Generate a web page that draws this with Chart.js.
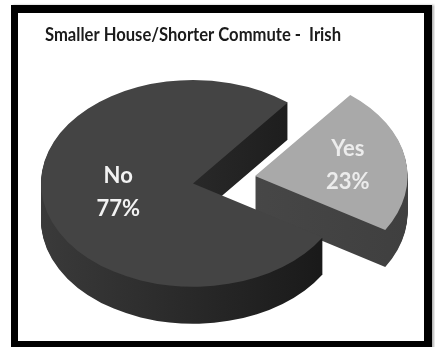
<!DOCTYPE html>
<html>
<head>
<meta charset="utf-8">
<script src="https://cdn.jsdelivr.net/npm/chart.js@4.4.0/dist/chart.umd.min.js"></script>
<style>
  html, body { margin: 0; padding: 0; background: #fff; overflow: hidden; }
  #wrap { position: relative; width: 435px; height: 347px; }
  #pieChart { display: block; }
  #frame {
    position: absolute; left: 11px; top: 5px; width: 421px; height: 345px;
    box-sizing: border-box; border-style: solid; border-color: #000;
    border-width: 8px 8px 9px 7px; pointer-events: none;
    box-shadow: 2px 0 2px rgba(0, 0, 0, 0.3);
  }
</style>
</head>
<body>
<div id="wrap">
  <canvas id="pieChart" width="435" height="347"></canvas>
  <div id="frame"></div>
</div>
<script>
// Survey answers
const answers = ['Yes', 'No'];
const shares = [23, 77];

// Look of the disc
const topColors = ['#a9a9a9', '#444444'];
const sideColors = [['#4e4e4e', '#3c3c3c'], ['#3a3a3a', '#171717']];
const labelColors = ['#ececec', '#f2f2f2'];
const explode = [63, 0];        // px the slice is pulled out
const labelRadius = [0.62, 0.5];
const tilt = 0.68;              // vertical squash of the disc
const depth = 37;               // disc thickness, px

// copy of the arc options with another fill
function withFill(el, fill) {
    return Object.create(el.options, {
        backgroundColor: { value: fill },
        borderWidth: { value: 0 }
    });
}

// Tilted 3D disc: squash the pie and extrude every slice downwards
const disc3d = {
    id: 'disc3d',
    beforeDatasetsDraw(chart) {
        const ctx = chart.ctx;
        const arcs = chart.getDatasetMeta(0).data;
        const cx = arcs[0].x;
        const cy = arcs[0].y;
        const r = arcs[0].outerRadius;

        ctx.save();
        ctx.translate(cx, cy);
        ctx.scale(1, tilt);
        ctx.translate(-cx, -cy);

        arcs.forEach((el, i) => {
            const g = ctx.createLinearGradient(cx - r, 0, cx + r + explode[i], 0);
            g.addColorStop(0, sideColors[i][0]);
            g.addColorStop(1, sideColors[i][1]);
            const saved = el.options;
            el.options = withFill(el, g);
            for (let d = depth; d > 0; d--) {
                ctx.save();
                ctx.translate(0, d / tilt);
                el.draw(ctx);
                ctx.restore();
            }
            el.options = saved;
        });
    },
    afterDatasetsDraw(chart) {
        const ctx = chart.ctx;
        ctx.restore();

        const arcs = chart.getDatasetMeta(0).data;
        const total = shares.reduce((a, b) => a + b, 0);
        arcs.forEach((el, i) => {
            const mid = (el.startAngle + el.endAngle) / 2;
            const rr = explode[i] + el.outerRadius * labelRadius[i];
            const x = el.x + Math.cos(mid) * rr;
            const y = el.y + Math.sin(mid) * rr * tilt;
            ctx.save();
            ctx.fillStyle = labelColors[i];
            ctx.font = 'bold 22px Lato';
            ctx.textAlign = 'center';
            ctx.textBaseline = 'middle';
            ctx.fillText(answers[i], x, y - 16);
            ctx.fillText(Math.round(shares[i] / total * 100) + '%', x, y + 17);
            ctx.restore();
        });
    }
};

new Chart(document.getElementById('pieChart'), {
    type: 'pie',
    data: {
        labels: answers,
        datasets: [{
            data: shares,
            backgroundColor: topColors,
            borderWidth: 0,
            offset: explode.map(v => v * 4),
            clip: false
        }]
    },
    options: {
        responsive: false,
        animation: false,
        events: [],
        rotation: 38.6,
        radius: 152,
        layout: {
            padding: { left: 45, right: 94, top: 13, bottom: 36 }
        },
        plugins: {
            legend: { display: false },
            tooltip: { enabled: false },
            title: {
                display: true,
                text: 'Smaller House/Shorter Commute -  Irish',
                align: 'start',
                color: '#1b1b1b',
                font: { family: 'Lato', size: 19, weight: 'bold' },
                padding: { top: 10, bottom: 10 }
            }
        }
    },
    plugins: [disc3d]
});
</script>
</body>
</html>
